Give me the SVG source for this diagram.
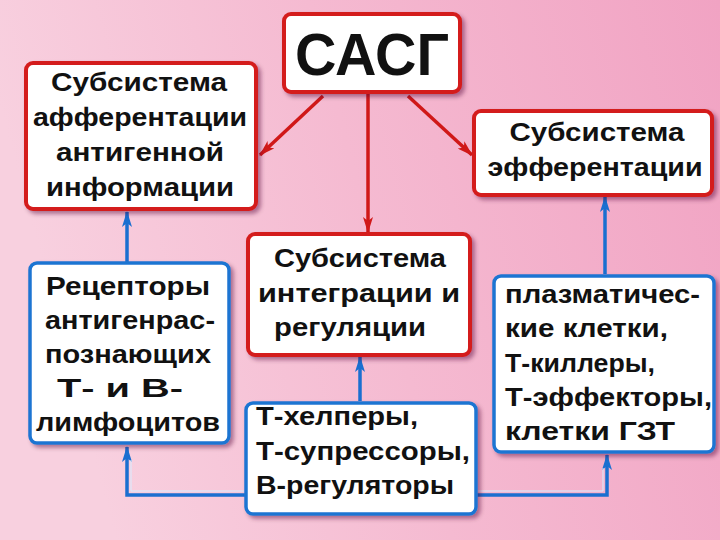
<svg xmlns="http://www.w3.org/2000/svg" width="720" height="540" viewBox="0 0 720 540">
<defs>
<linearGradient id="bg" x1="0" y1="0.2" x2="1" y2="0">
<stop offset="0" stop-color="#f8d0df"/>
<stop offset="0.45" stop-color="#f5bad1"/>
<stop offset="1" stop-color="#f1a3c3"/>
</linearGradient>
<filter id="sh" x="-10%" y="-10%" width="130%" height="130%">
<feDropShadow dx="3" dy="3" stdDeviation="2" flood-color="#501030" flood-opacity="0.45"/>
</filter>
<marker id="ar" viewBox="0 0 16 10" refX="15" refY="5" markerWidth="16" markerHeight="10" markerUnits="userSpaceOnUse" orient="auto">
<path d="M0,0 L16,5 L0,10 L4,5 Z" fill="#d01818"/>
</marker>
<marker id="ab" viewBox="0 0 16 10" refX="15" refY="5" markerWidth="16" markerHeight="10" markerUnits="userSpaceOnUse" orient="auto">
<path d="M0,0 L16,5 L0,10 L4,5 Z" fill="#1a6fd0"/>
</marker>
<style>
.rb{fill:#fff;stroke:#d41c1c;stroke-width:4;filter:url(#sh)}
.bb{fill:#fff;stroke:#1f74d2;stroke-width:3.5;filter:url(#sh)}
.t{font-family:"Liberation Sans",Arial,sans-serif;font-weight:bold;font-size:26px;fill:#111}
.c{text-anchor:middle}
.rl{fill:none;stroke:#d01818;stroke-width:3.5}
.bl{fill:none;stroke:#1a6fd0;stroke-width:3.5}
.hl{fill:none;stroke:#d8ecff;stroke-width:1}
</style>
</defs>
<rect width="720" height="540" fill="url(#bg)"/>

<g id="connectors">
<line class="rl" x1="323" y1="96" x2="260" y2="155" marker-end="url(#ar)"/>
<line class="rl" x1="408" y1="96" x2="472" y2="155" marker-end="url(#ar)"/>
<line class="rl" x1="368" y1="94" x2="368" y2="232" marker-end="url(#ar)"/>
<line class="bl" x1="127" y1="262" x2="127" y2="212" marker-end="url(#ab)"/>
<line class="bl" x1="605" y1="274" x2="605" y2="197" marker-end="url(#ab)"/>
<line class="bl" x1="360" y1="401" x2="360" y2="357" marker-end="url(#ab)"/>
<polyline class="bl" points="245,495 127,495 127,447" marker-end="url(#ab)"/>
<polyline class="bl" points="477,495 607,495 607,455" marker-end="url(#ab)"/>
<polyline class="hl" points="245,491 131,491 131,460"/>
<polyline class="hl" points="477,491 603,491 603,468"/>
</g>

<g id="sasg">
<rect class="rb" x="284" y="14" width="176" height="78" rx="7"/>
<text class="t c" x="372" y="75" style="font-size:60px" textLength="154" lengthAdjust="spacingAndGlyphs">САСГ</text>
</g>

<g id="afferent">
<rect class="rb" x="26" y="63" width="230" height="146" rx="7"/>
<text class="t c" x="139" y="91" textLength="176" lengthAdjust="spacingAndGlyphs">Субсистема</text>
<text class="t c" x="140" y="126" textLength="214" lengthAdjust="spacingAndGlyphs">афферентации</text>
<text class="t c" x="140" y="161" textLength="168" lengthAdjust="spacingAndGlyphs">антигенной</text>
<text class="t c" x="140" y="196" textLength="188" lengthAdjust="spacingAndGlyphs">информации</text>
</g>

<g id="efferent">
<rect class="rb" x="474" y="111" width="238" height="84" rx="7"/>
<text class="t c" x="597" y="141" textLength="175" lengthAdjust="spacingAndGlyphs">Субсистема</text>
<text class="t c" x="595" y="176" textLength="215" lengthAdjust="spacingAndGlyphs">эфферентации</text>
</g>

<g id="integration">
<rect class="rb" x="248" y="234" width="222" height="121" rx="7"/>
<text class="t c" x="360" y="267" textLength="172" lengthAdjust="spacingAndGlyphs">Субсистема</text>
<text class="t c" x="359" y="302" textLength="202" lengthAdjust="spacingAndGlyphs">интеграции  и</text>
<text class="t c" x="350" y="336" textLength="152" lengthAdjust="spacingAndGlyphs">регуляции</text>
</g>

<g id="receptors">
<rect class="bb" x="30" y="263" width="199" height="180" rx="7"/>
<text class="t c" x="128" y="295" textLength="164" lengthAdjust="spacingAndGlyphs">Рецепторы</text>
<text class="t c" x="130" y="329" textLength="170" lengthAdjust="spacingAndGlyphs">антигенрас-</text>
<text class="t c" x="128" y="363" textLength="166" lengthAdjust="spacingAndGlyphs">познающих</text>
<text class="t c" x="120" y="397" textLength="126" lengthAdjust="spacingAndGlyphs">Т-  и  В-</text>
<text class="t c" x="128" y="431" textLength="184" lengthAdjust="spacingAndGlyphs">лимфоцитов</text>
</g>

<g id="helpers">
<rect class="bb" x="246" y="403" width="230" height="111" rx="7"/>
<text class="t" x="256" y="425" textLength="162" lengthAdjust="spacingAndGlyphs">Т-хелперы,</text>
<text class="t" x="256" y="460" textLength="214" lengthAdjust="spacingAndGlyphs">Т-супрессоры,</text>
<text class="t" x="256" y="494" textLength="198" lengthAdjust="spacingAndGlyphs">В-регуляторы</text>
</g>

<g id="effectors">
<rect class="bb" x="494" y="276" width="220" height="176" rx="7"/>
<text class="t" x="505" y="303" textLength="195" lengthAdjust="spacingAndGlyphs">плазматичес-</text>
<text class="t" x="505" y="337" textLength="163" lengthAdjust="spacingAndGlyphs">кие  клетки,</text>
<text class="t" x="505" y="372" textLength="150" lengthAdjust="spacingAndGlyphs">Т-киллеры,</text>
<text class="t" x="505" y="406" textLength="207" lengthAdjust="spacingAndGlyphs">Т-эффекторы,</text>
<text class="t" x="505" y="440" textLength="170" lengthAdjust="spacingAndGlyphs">клетки  ГЗТ</text>
</g>
</svg>
